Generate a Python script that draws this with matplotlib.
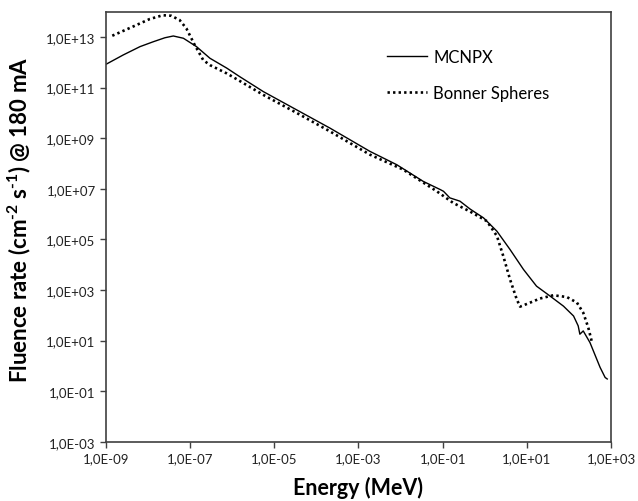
import matplotlib
matplotlib.use("Agg")
import matplotlib.pyplot as plt
from matplotlib.ticker import FixedLocator, FuncFormatter
import numpy as np

plt.rcParams['font.family'] = ['Lato', 'DejaVu Sans']
plt.rcParams['mathtext.fontset'] = 'custom'
plt.rcParams['mathtext.rm'] = 'Lato'
plt.rcParams['mathtext.bf'] = 'Lato:bold'

# log10(E / MeV), log10(fluence rate)
mcnpx_logE = [-9.0, -8.59, -8.19, -7.88, -7.60, -7.40, -7.16, -6.85, -6.53, -6.13,
              -5.82, -5.26, -4.47, -3.68, -2.73, -2.09, -1.46, -1.06, -0.98, -0.83,
              -0.59, -0.35, -0.03, 0.29, 0.60, 0.92, 1.23, 1.55, 1.87, 2.11,
              2.22, 2.26, 2.34, 2.50, 2.74, 2.86, 2.91]
mcnpx_logF = [11.92, 12.29, 12.62, 12.81, 12.97, 13.04, 12.95, 12.62, 12.16, 11.77,
              11.43, 10.84, 10.12, 9.40, 8.48, 7.95, 7.29, 6.97, 6.90, 6.64,
              6.51, 6.20, 5.85, 5.32, 4.60, 3.81, 3.15, 2.76, 2.36, 1.97,
              1.58, 1.25, 1.38, 0.92, -0.06, -0.46, -0.52]

bonner_logE = [-8.85, -8.36, -7.96, -7.65, -7.45, -7.25, -7.09, -6.89, -6.69, -6.53,
               -6.13, -5.82, -5.26, -4.47, -3.68, -2.73, -1.94, -1.14, -0.75, -0.35,
               0.05, 0.29, 0.44, 0.60, 0.76, 0.84, 1.08, 1.31, 1.63, 1.95,
               2.19, 2.34, 2.46, 2.54]
bonner_logF = [13.05, 13.41, 13.71, 13.86, 13.84, 13.67, 13.34, 12.68, 12.09, 11.89,
               11.56, 11.26, 10.71, 10.00, 9.27, 8.35, 7.76, 6.90, 6.44, 6.10,
               5.72, 5.13, 4.34, 3.42, 2.63, 2.34, 2.50, 2.66, 2.79, 2.72,
               2.50, 2.10, 1.51, 0.98]

xticks = [1e-9, 1e-7, 1e-5, 1e-3, 1e-1, 1e1, 1e3]
yticks = [1e-3, 1e-1, 1e1, 1e3, 1e5, 1e7, 1e9, 1e11, 1e13]


def excel_sci(v, pos):
    e = int(round(np.log10(v)))
    return "1,0E%s%02d" % ("+" if e >= 0 else "-", abs(e))


fig = plt.figure(figsize=(6.38, 5.02), dpi=100)
ax = fig.add_axes([0.1661, 0.1181, 0.7916, 0.8566])

ax.plot(10 ** np.array(mcnpx_logE), 10 ** np.array(mcnpx_logF), color='black',
        lw=1.0, label='MCNPX')
ax.plot(10 ** np.array(bonner_logE), 10 ** np.array(bonner_logF), color='black',
        lw=1.9, linestyle=(0, (0.9, 1.2)), label='Bonner Spheres')

ax.set_xscale('log')
ax.set_yscale('log')
ax.set_xlim(1e-9, 1e3)
ax.set_ylim(1e-3, 1e14)
ax.xaxis.set_major_locator(FixedLocator(xticks))
ax.yaxis.set_major_locator(FixedLocator(yticks))
ax.xaxis.set_minor_locator(FixedLocator([]))
ax.yaxis.set_minor_locator(FixedLocator([]))
ax.xaxis.set_major_formatter(FuncFormatter(excel_sci))
ax.yaxis.set_major_formatter(FuncFormatter(excel_sci))
ax.tick_params(axis='both', direction='out', length=4, width=1, color='#404040',
               labelsize=9.5, labelcolor='#222222')
for s in ax.spines.values():
    s.set_color('#404040')
    s.set_linewidth(1.2)

ax.set_xlabel('Energy (MeV)', fontsize=15.5, fontweight='bold', labelpad=8.5)
ax.set_ylabel('Fluence rate (cm$^{\\mathbf{\u20102}}$ s$^{\\mathbf{\u20101}}$) @ 180 mA',
              fontsize=16, fontweight='bold')
ax.yaxis.set_label_coords(-0.145, 0.518)

leg = ax.legend(loc='upper left', bbox_to_anchor=(0.556, 0.913), frameon=False,
                fontsize=12, handlelength=2.4, labelspacing=1.2, handletextpad=0.4,
                borderpad=0, borderaxespad=0)

fig.savefig('out.png', dpi=100)
